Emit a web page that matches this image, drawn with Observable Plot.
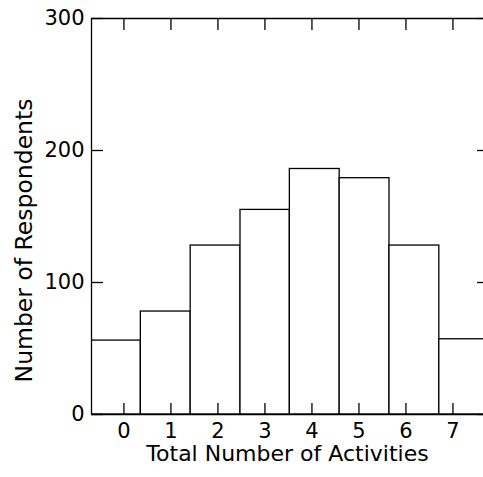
<!DOCTYPE html>
<html>
<head>
<meta charset="utf-8">
<script src="https://cdn.jsdelivr.net/npm/d3@7"></script>
<script src="https://cdn.jsdelivr.net/npm/@observablehq/plot@0.6"></script>
<style>
  html, body { margin: 0; padding: 0; background: #fff; }
</style>
</head>
<body>
<div id="chart"></div>
<script>
// Data
const activities = [0, 1, 2, 3, 4, 5, 6, 7];
const respondents = [56, 78, 128, 155, 186, 179, 128, 57];
// bin edges as drawn in the reference (bars are offset from the tick marks)
const binEdges = [-0.69, 0.36, 1.42, 2.48, 3.53, 4.59, 5.65, 6.71, 7.76];
const xTicks = [0, 1, 2, 3, 4, 5, 6, 7];
const yTicks = [0, 100, 200, 300];
const xDomain = [-0.69, 7.65];
const yDomain = [0, 300];
const xTitle = "Total Number of Activities";
const yTitle = "Number of Respondents";

const bars = activities.map((a, i) => ({
  activity: a,
  count: respondents[i],
  x1: binEdges[i],
  x2: binEdges[i + 1]
}));

const W = 483, H = 477;
const mL = 91, mR = 0, mT = 18, mB = 63;
const plotW = W - mL - mR, plotH = H - mT - mB;

const chart = Plot.plot({
  width: W,
  height: H,
  marginLeft: mL,
  marginRight: mR,
  marginTop: mT,
  marginBottom: mB,
  style: { fontFamily: "DejaVu Sans", fontSize: "21px", color: "#000", background: "#fff" },
  x: { domain: xDomain },
  y: { domain: yDomain },
  marks: [
    Plot.rectY(bars, { x1: "x1", x2: "x2", y: "count", fill: "#fff", stroke: "#000", strokeWidth: 1.3, clip: true }),
    // frame lines (top, bottom, left)
    Plot.ruleY([yDomain[0], yDomain[1]], { stroke: "#000", strokeWidth: 1.3 }),
    Plot.ruleX([xDomain[0]], { stroke: "#000", strokeWidth: 1.3 }),
    // inward ticks
    Plot.tickX(xTicks, { x: d => d, insetTop: plotH - 11, stroke: "#000", strokeWidth: 1.3 }),
    Plot.tickX(xTicks, { x: d => d, insetBottom: plotH - 12, stroke: "#000", strokeWidth: 1.3 }),
    Plot.tickY(yTicks, { y: d => d, insetRight: plotW - 12, stroke: "#000", strokeWidth: 1.3 }),
    Plot.tickY(yTicks, { y: d => d, insetLeft: plotW - 6, stroke: "#000", strokeWidth: 1.3 }),
    // tick labels
    Plot.axisX(xTicks, { tickSize: 0, tickPadding: 9, label: null, fill: "#000" }),
    Plot.axisY(yTicks, { tickSize: 0, tickPadding: 7, label: null, fill: "#000" }),
    // titles
    Plot.text([xTitle], { frameAnchor: "bottom", textAnchor: "middle", lineAnchor: "top", dy: 31, fontSize: 22, fill: "#000" }),
    Plot.text([yTitle], { frameAnchor: "left", textAnchor: "middle", rotate: -90, lineAnchor: "middle", dx: -67, dy: 24, fontSize: 23.5, fill: "#000" })
  ]
});

document.getElementById("chart").appendChild(chart);
</script>
</body>
</html>
